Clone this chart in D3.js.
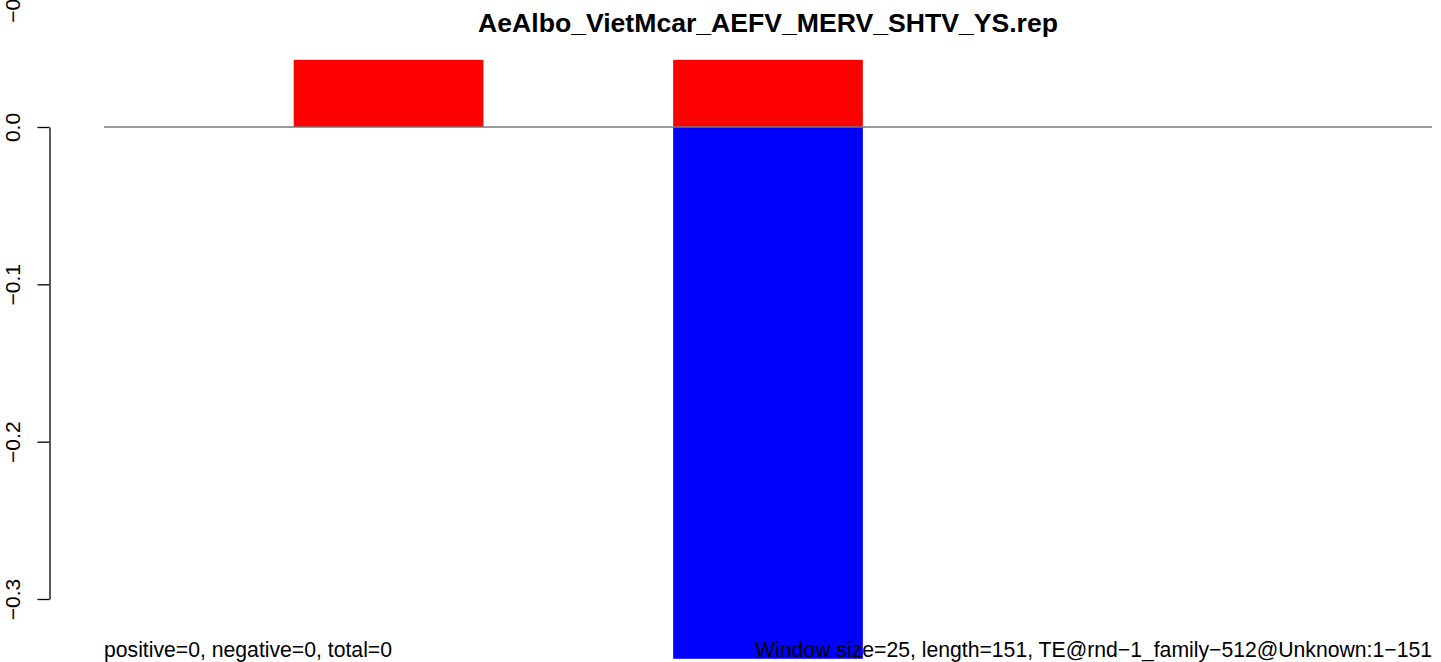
<!DOCTYPE html>
<html>
<head>
<meta charset="utf-8">
<script src="https://cdn.jsdelivr.net/npm/d3@7"></script>
<style>
  html, body { margin: 0; padding: 0; background: #fff; }
  svg { display: block; font-family: "Liberation Sans", Arial, Helvetica, sans-serif; }
</style>
</head>
<body>
<svg id="chart" width="1441" height="662"></svg>
<script>
// ---- data ----
const windows = ["1-25", "26-50", "51-75"];
const positiveValues = [0.0427, 0.0427, 0];
const negativeValues = [0, -0.338, 0];
const tickValues = [0, -0.1, -0.2, -0.3];
const tickLabels = ["0.0", "\u22120.1", "\u22120.2", "\u22120.3"];
const titleText = "AeAlbo_VietMcar_AEFV_MERV_SHTV_YS.rep";
const leftNote = "positive=0, negative=0, total=0";
const rightNote = "Window size=25, length=151, TE@rnd\u22121_family\u2212512@Unknown:1\u2212151";

// ---- layout ----
const W = 1441, H = 662;
const plotLeft = 104, plotRight = 1432;
const svg = d3.select("#chart");
svg.append("rect").attr("width", W).attr("height", H).attr("fill", "#fff");

const x = d3.scaleBand().domain(windows).range([plotLeft, plotRight])
  .paddingInner(0.5).paddingOuter(0.5);
const y = d3.scaleLinear().domain([-0.3, 0]).range([599, 127]);

// bars
svg.append("g").selectAll("rect.pos").data(windows).join("rect")
  .attr("class", "pos")
  .attr("x", d => x(d)).attr("width", x.bandwidth())
  .attr("y", (d, i) => y(positiveValues[i]))
  .attr("height", (d, i) => y(0) - y(positiveValues[i]))
  .attr("fill", "#ff0000");

svg.append("g").selectAll("rect.neg").data(windows).join("rect")
  .attr("class", "neg")
  .attr("x", d => x(d)).attr("width", x.bandwidth())
  .attr("y", y(0))
  .attr("height", (d, i) => y(negativeValues[i]) - y(0))
  .attr("fill", "#0000ff");

// zero line
svg.append("line")
  .attr("x1", plotLeft).attr("x2", plotRight)
  .attr("y1", y(0)).attr("y2", y(0))
  .attr("stroke", "#777").attr("stroke-width", 1.3);

// y axis
const axis = d3.axisLeft(y).tickValues(tickValues)
  .tickFormat((d, i) => tickLabels[i]).tickSize(12).tickSizeOuter(0);
const gAxis = svg.append("g").attr("transform", "translate(49.5,0)").call(axis);
gAxis.select(".domain").attr("stroke", "#000").attr("stroke-width", 1.3);
gAxis.selectAll(".tick line").attr("stroke", "#000").attr("stroke-width", 1.3);
gAxis.selectAll(".tick text")
  .attr("x", null).attr("dy", null)
  .attr("transform", "translate(-29.5,0) rotate(-90)")
  .attr("text-anchor", "middle")
  .attr("font-size", 21)
  .attr("font-family", "\"Liberation Sans\", Arial, Helvetica, sans-serif")
  .attr("fill", "#000");

// stray clipped label at top-left
svg.append("text")
  .attr("transform", "translate(20,2) rotate(-90)")
  .attr("text-anchor", "middle")
  .attr("font-size", 21)
  .text("\u22120.4");

// title
svg.append("text")
  .attr("x", (plotLeft + plotRight) / 2).attr("y", 32)
  .attr("text-anchor", "middle")
  .attr("font-weight", "bold").attr("font-size", 26.6)
  .text(titleText);

// notes
svg.append("text").attr("x", plotLeft).attr("y", 657)
  .attr("font-size", 21.2).text(leftNote);
svg.append("text").attr("x", plotRight).attr("y", 657)
  .attr("text-anchor", "end").attr("font-size", 21.2).text(rightNote);
</script>
</body>
</html>
